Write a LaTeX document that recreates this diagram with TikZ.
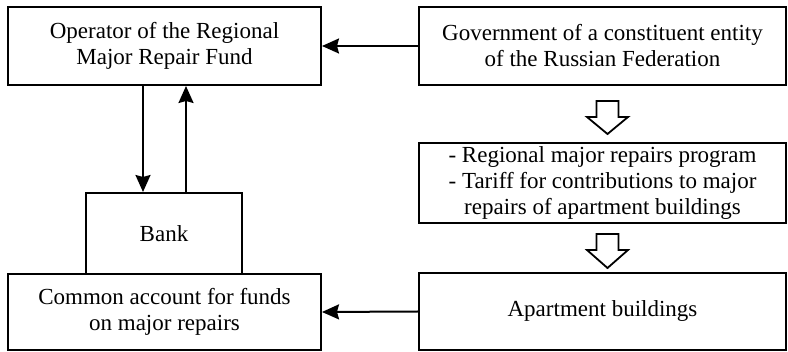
\documentclass[tikz,border=0pt]{standalone}
\usepackage{fontspec}
\setmainfont{Liberation Serif}
\usetikzlibrary{arrows.meta,calc}
\tikzset{
  box/.style={draw=black, line width=2pt, rectangle, align=center, inner sep=0pt,
    font=\rmfamily\fontsize{23}{26}\selectfont},
  arr/.style={draw=black, line width=2pt, -{Stealth[length=17pt,width=15pt,inset=2pt]}},
  hollow/.style={draw=black, line width=1.8pt, fill=white, line join=miter}
}
\begin{document}
\begin{tikzpicture}[x=1pt,y=-1pt]
\useasboundingbox[fill=white] (0,0) rectangle (788,352);
% boxes
\node[box, minimum width=313pt, minimum height=78pt] (op) at (164.5,46) {Operator of the Regional\\Major Repair Fund};
\node[box, minimum width=367pt, minimum height=78pt] (gov) at (602.5,46) {Government of a constituent entity\\of the Russian Federation};
\node[box, minimum width=367pt, minimum height=80pt] (mid) at (602.5,183) {- Regional major repairs program\\- Tariff for contributions to major\\repairs of apartment buildings};
\node[box, minimum width=367pt, minimum height=77pt] (apt) at (602.5,311.5) {Apartment buildings};
\node[box, minimum width=313pt, minimum height=76pt] (com) at (164.5,312) {Common account for funds\\on major repairs};
\node[box, minimum width=156pt, minimum height=81pt] (bank) at (164,233.5) {Bank};
% connectors
\draw[arr] (gov.west) -- (op.east);
\draw[arr] (apt.west) -- (com.east);
\draw[arr] ([xshift=-21.5pt]op.south) -- ([xshift=-21.5pt]op.south |- bank.north);
\draw[arr] ([xshift=21.5pt]op.south |- bank.north) -- ([xshift=21.5pt]op.south);
% hollow arrows
\coordinate (h1) at ($(gov.south)+(5,15)$);
\coordinate (h2) at ($(mid.south)+(5,10)$);
\draw[hollow] ($(h1)+(-11,0)$) -- ($(h1)+(11,0)$) -- ($(h1)+(11,16)$) -- ($(h1)+(20.5,16)$) -- ($(h1)+(0,33)$) -- ($(h1)+(-20.5,16)$) -- ($(h1)+(-11,16)$) -- cycle;
\draw[hollow] ($(h2)+(-11,0)$) -- ($(h2)+(11,0)$) -- ($(h2)+(11,16)$) -- ($(h2)+(20.5,16)$) -- ($(h2)+(0,34)$) -- ($(h2)+(-20.5,16)$) -- ($(h2)+(-11,16)$) -- cycle;
\end{tikzpicture}
\end{document}
